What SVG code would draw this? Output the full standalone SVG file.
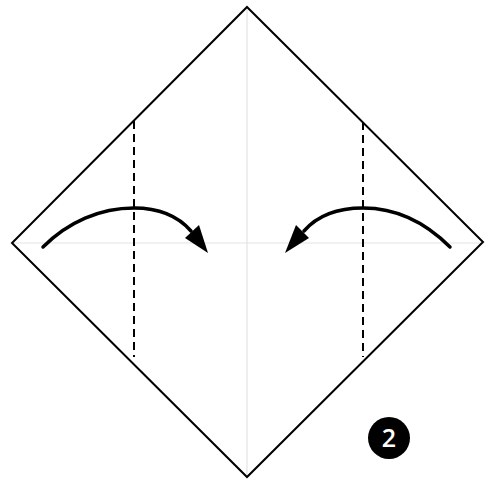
<svg xmlns="http://www.w3.org/2000/svg" width="486" height="481" viewBox="0 0 486 481">
<style>
.crease{stroke:#e3e3e3;stroke-width:1.2;fill:none}
.edge{stroke:#000;stroke-width:2;fill:none;stroke-linejoin:miter}
.fold{stroke:#000;stroke-width:2;stroke-dasharray:8 5;fill:none}
.arrow{stroke:#000;stroke-width:3.5;fill:none;stroke-linecap:round}
.head{fill:#000}
.badge-text{font-family:"Open Sans","Liberation Sans",sans-serif;font-size:25px;font-weight:600;fill:#fff}
</style>
<rect width="486" height="481" fill="#fff"/>
<g id="paper">
<line class="crease" x1="12" y1="243" x2="483" y2="243"/>
<line class="crease" x1="247" y1="7" x2="247" y2="477"/>
<polygon class="edge" points="247,7 483,242 247,477 12,243"/>
</g>
<g id="fold-lines">
<line class="fold" x1="134" y1="121" x2="134" y2="357"/>
<line class="fold" x1="363" y1="122" x2="363" y2="357"/>
</g>
<g id="connectors">
<path class="arrow" d="M43,247 C68,222 100,208 134,208 C160,208 178,216 191,231"/>
<polygon class="head" points="208,253 185,238 199,225"/>
<path class="arrow" d="M450,247 C425,222 395,208 363,208 C336,208 317,216 304,231"/>
<polygon class="head" points="285,253 296,225 309,238"/>
</g>
<g id="step-badge">
<circle cx="389" cy="438" r="21" fill="#000"/>
<text class="badge-text" x="389" y="447" text-anchor="middle">2</text>
</g>
</svg>
